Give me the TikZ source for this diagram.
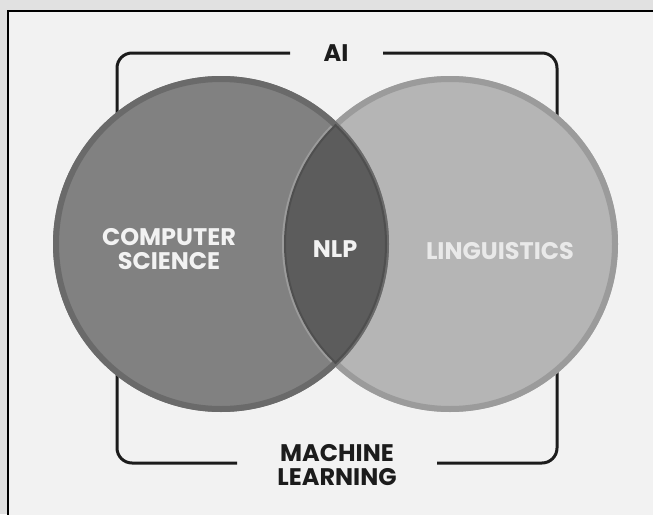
\documentclass[tikz,border=0pt]{standalone}
\usepackage{fontspec}
\setmainfont{Poppins}
\definecolor{pageout}{HTML}{E1E1E1}
\definecolor{pagein}{HTML}{F2F2F2}
\definecolor{csfill}{HTML}{818181}
\definecolor{csring}{HTML}{6A6A6A}
\definecolor{lgfill}{HTML}{B5B5B5}
\definecolor{lgring}{HTML}{9B9B9B}
\definecolor{nlpfill}{HTML}{5C5C5C}
\definecolor{nlpedge}{HTML}{4F4F4F}
\definecolor{ink}{HTML}{1C1C1C}
\tikzset{
  bracket/.style={draw=ink, line width=3pt, rounded corners=15pt},
  darklabel/.style={text=ink, font=\bfseries\fontsize{24}{25}\selectfont, align=center, inner sep=0pt},
  lightlabel/.style={text=#1, font=\bfseries\fontsize{24}{25}\selectfont, align=center, inner sep=0pt},
}
\begin{document}
\begin{tikzpicture}[x=1pt, y=-1pt]
  \useasboundingbox (0,0) rectangle (653,514);
  % page
  \fill[pageout] (0,0) rectangle (653,514);
  \filldraw[fill=pagein, draw=black, line width=1.5pt] (8,11) rectangle (670,530);

  % bracket corners
  \coordinate (tl) at (117,52);
  \coordinate (tr) at (557,52);
  \coordinate (bl) at (117,463);
  \coordinate (br) at (557,463);

  % labels outside the circles
  \node[darklabel] (ai) at (336,53) {AI};
  \node[darklabel] (ml) at (337,465) {MACHINE\\[-1pt]LEARNING};

  % bracket
  \draw[bracket] ([xshift=-46pt]ai.center) -| (bl) -- ([xshift=-100pt]ml.center |- bl);
  \draw[bracket] ([xshift=47pt]ai.center) -| (br) -- ([xshift=100pt]ml.center |- br);

  % circles
  \coordinate (cs) at (221,244);
  \coordinate (lg) at (450,244);
  \fill[lgfill] (lg) circle (168);
  \fill[csfill] (cs) circle (168);
  \draw[lgring, line width=6pt] (lg) circle (165);
  \draw[csring, line width=6pt] (cs) circle (165);
  \begin{scope}
    \clip (cs) circle (165);
    \fill[nlpfill] (lg) circle (165);
  \end{scope}
  \begin{scope}
    \clip (cs) circle (166);
    \draw[nlpedge, line width=2pt] (lg) circle (165);
  \end{scope}
  \begin{scope}
    \clip (lg) circle (166);
    \draw[nlpedge, line width=2pt] (cs) circle (165);
  \end{scope}

  % labels inside the circles
  \node[lightlabel=pagein] (cslabel) at (169,249) {COMPUTER\\[-1pt]SCIENCE};
  \node[lightlabel=pagein] (nlp) at (335,249) {NLP};
  \node[lightlabel=pagein!85!lgfill] (lglabel) at (500,251) {LINGUISTICS};
\end{tikzpicture}
\end{document}
